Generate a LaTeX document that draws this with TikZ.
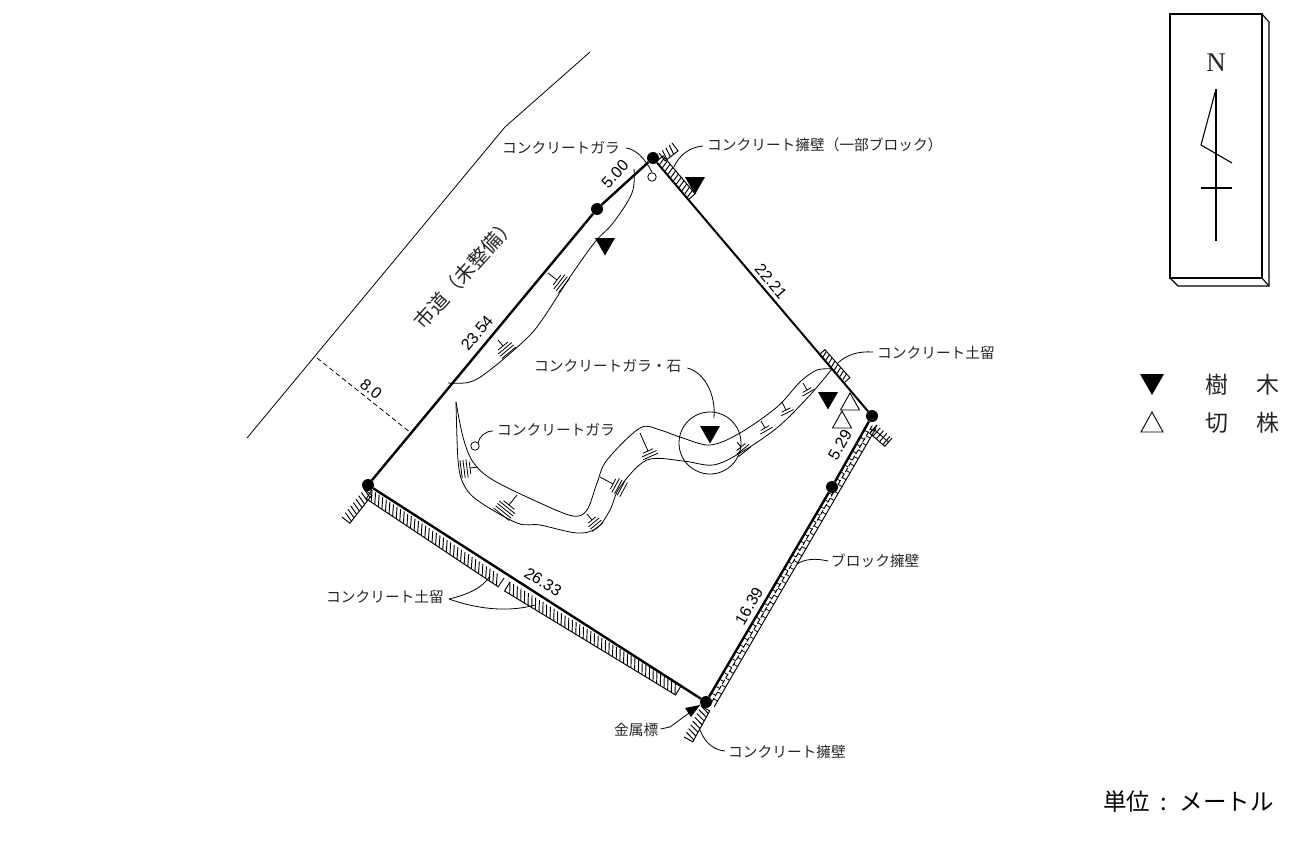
\documentclass[tikz,border=0pt]{standalone}
\usepackage{fontspec}
\setmainfont{Liberation Serif}
\newfontfamily\jp{Noto Sans CJK JP}
\newfontfamily\num{Liberation Sans}
\newcommand\hstrip[7]{% x1 y1 x2 y2 w spacing skew
  \pgfmathsetmacro\hsL{veclen(#3-#1,#4-#2)}
  \pgfmathsetmacro\hsux{(#3-#1)/\hsL}
  \pgfmathsetmacro\hsuy{(#4-#2)/\hsL}
  \pgfmathsetmacro\hsnx{-\hsuy*(#5)}
  \pgfmathsetmacro\hsny{\hsux*(#5)}
  \draw[hatch line] (#1,#2) -- (#1+\hsnx,#2+\hsny) -- (#3+\hsnx,#4+\hsny) -- (#3,#4);
  \pgfmathtruncatemacro\hsN{\hsL/(#6)}
  \foreach \k in {0,...,\hsN}{
    \pgfmathsetmacro\hss{\k*(#6)}
    \pgfmathsetmacro\hso{\hss+(#7)}
    \pgfmathtruncatemacro\hsok{(\hso>=0 && \hso<=\hsL) ? 1 : 0}
    \ifnum\hsok=1
      \draw[hatch line] (#1+\hss*\hsux,#2+\hss*\hsuy) -- (#1+\hso*\hsux+\hsnx,#2+\hso*\hsuy+\hsny);
    \fi
  }
}
\newcommand\teemark[7]{% x1 y1 x2 y2 half n spacing
  \pgfmathsetmacro\tmL{veclen(#3-#1,#4-#2)}
  \pgfmathsetmacro\tmux{(#3-#1)/\tmL}
  \pgfmathsetmacro\tmuy{(#4-#2)/\tmL}
  \draw[thin line] (#1,#2) -- (#3,#4);
  \foreach \k in {1,...,#6}{
    \pgfmathsetmacro\tmd{(\k-1)*(#7)}
    \pgfmathsetmacro\tmh{(#5)*(\k==1 ? 0.7 : 1)}
    \draw[thin line] (#3+\tmd*\tmux-\tmh*\tmuy,#4+\tmd*\tmuy+\tmh*\tmux) -- (#3+\tmd*\tmux+\tmh*\tmuy,#4+\tmd*\tmuy-\tmh*\tmux);
  }
}
\newcommand\treemark[2]{\fill[black] (#1-10,#2) -- (#1+10,#2) -- (#1,#2+17.5) -- cycle;}
\newcommand\stumpmark[2]{\draw[stump] (#1,#2) -- (#1+9.5,#2+17) -- (#1-9.5,#2+17) -- cycle;}
\tikzset{
  thin line/.style={line width=0.8pt,black},
  hatch line/.style={line width=0.95pt,black},
  bound/.style={line width=2.4pt,black},
  dot/.style={circle,fill=black,minimum size=12pt,inner sep=0pt},
  lab/.style={font=\jp\fontsize{14.7}{15}\selectfont,inner sep=0pt,anchor=west,text=black!85},
  dim/.style={font=\num\fontsize{16}{17}\selectfont,inner sep=0pt,text=black},
  leader/.style={line width=0.8pt,black},
  smallc/.style={circle,draw=black,line width=0.8pt,minimum size=8.5pt,inner sep=0pt},
  stump/.style={line width=0.9pt,black},
  legendtxt/.style={font=\jp\fontsize{23}{24}\selectfont,inner sep=0pt,text=black!85},
  comp/.style={line width=1.1pt,black},
}
\begin{document}
\begin{tikzpicture}[x=1pt,y=-1pt]
\useasboundingbox (0,0) rectangle (1302,843);
% corner nodes
\node[dot] (P1) at (653,158) {};
\node[dot] (P2) at (597,209) {};
\node[dot] (P3) at (368,485) {};
\node[dot] (P4) at (706,702) {};
\node[dot] (P5) at (832,487) {};
\node[dot] (P6) at (872,416) {};
% road
\coordinate (R1) at (590,52);
\coordinate (R2) at (505,127);
\coordinate (R3) at (247,438);
\draw[thin line] (R1) -- (R2) -- (R3);
\coordinate (D1) at (317,358);
\coordinate (D2) at (411,433);
\draw[thin line,dash pattern=on 5pt off 3pt] (D1) -- (D2);
% boundary
\draw[bound] (P1) -- (P2);
\draw[bound] (P2) -- (P3);
\draw[bound] (P3) -- (P4);
\draw[bound] (P4) -- (P5);
\draw[bound] (P5) -- (P6);
\draw[line width=2pt] (P1) -- (P6);
% hatched strips
\hstrip{657}{161}{689}{199}{-8}{4.3}{-2}
\hstrip{659}{153}{672}{143}{10}{4.3}{-2}
\hstrip{820}{354}{845}{382}{-6.5}{4.3}{-2}
\hstrip{372}{490}{504}{578}{10.5}{4.3}{6}
\hstrip{510}{582}{681}{686}{10.5}{4.3}{6}
\hstrip{364}{489}{342}{517}{-10}{4.3}{3}
\hstrip{701}{706}{684}{737}{-10}{4.3}{3}
\hstrip{877}{425}{892}{438}{11}{4.3}{0}
\draw[thin line] (873.5,429) -- (888.5,442);
% block wall
\pgfmathsetmacro\bux{-0.502}\pgfmathsetmacro\buy{0.865}
\pgfmathsetmacro\bnx{0.865}\pgfmathsetmacro\bny{0.502}
\draw[hatch line] (868+9.5*\bnx,423+9.5*\bny) -- (706+9.5*\bnx,702+9.5*\bny);
\draw[hatch line,dash pattern=on 5pt off 2pt] (868+5*\bnx,423+5*\bny) -- (706+5*\bnx,702+5*\bny);
\foreach \k in {1,...,40}{
  \pgfmathsetmacro\bs{8*\k}
  \draw[thin line] (868+\bs*\bux+1*\bnx,423+\bs*\buy+1*\bny) -- (868+\bs*\bux+5*\bnx,423+\bs*\buy+5*\bny);
  \draw[thin line] (868+\bs*\bux-4*\bux+5*\bnx,423+\bs*\buy-4*\buy+5*\bny) -- (868+\bs*\bux-4*\bux+9.5*\bnx,423+\bs*\buy-4*\buy+9.5*\bny);
}
% slope lines
\draw[thin line] plot[smooth,tension=0.6] coordinates {(634,169) (632,193) (613,223) (595,242) (570,277) (542,320) (525,340) (490,370) (470,382) (448,383)};
\draw[thin line] plot[smooth,tension=0.55] coordinates {(456,402) (463,437) (473,462) (493,480) (540,503) (573,516) (587,510) (597,483) (607,460) (640,428) (660,430) (680,437) (710,445) (740,433) (777,407) (800,382) (817,370) (832,369)};
\draw[thin line] plot[smooth,tension=0.55] coordinates {(456,402) (458,460) (463,483) (477,500) (517,523) (540,525) (577,533) (597,528) (610,510) (620,487) (647,460) (683,461) (713,465) (740,453) (778,427) (810,395) (832,369)};
% slope marks
\teemark{548}{273}{557}{280}{9}{4}{3}
\teemark{498}{340}{503}{346}{9}{4}{3}
\teemark{478}{467}{470}{468}{9}{4}{3}
\teemark{517}{495}{509}{505}{10}{5}{3}
\teemark{587}{514}{592}{520}{7}{4}{3}
\teemark{600}{477}{613}{484}{8}{5}{3}
\teemark{640}{433}{648}{451}{8}{3}{3}
\teemark{737}{442}{741}{447}{8}{3}{3}
\teemark{761}{421}{765}{428}{7}{2}{3}
\teemark{782}{402}{786}{410}{7}{2}{3}
\teemark{803}{383}{807}{390}{7}{2}{3}
% big circle
\node[circle,draw=black,line width=0.8pt,minimum size=62pt,inner sep=0pt] (C) at (710,443) {};
% trees and stumps
\treemark{695}{177}
\treemark{605}{238}
\treemark{710}{426}
\treemark{828}{392}
\stumpmark{850}{393}
\stumpmark{842}{411}
% small circles
\node[smallc] (c1) at (652,177) {};
\node[smallc] (c2) at (475,446) {};
% labels
\node[lab] (L1) at (502,148) {コンクリートガラ};
\draw[leader] (L1.east)++(6,0) .. controls (635,149) and (645,158) .. (c1.north);
\node[lab] (L2) at (707,145) {コンクリート擁壁（一部ブロック）};
\coordinate (a2) at (674,167);
\draw[leader] (L2.west)++(-4,1) .. controls (690,147) and (679,155) .. (a2);
\node[lab] (L3) at (877,353) {コンクリート土留};
\coordinate (a3) at (838,363);
\draw[leader] (L3.west)++(-4,-1) .. controls (858,351) and (846,355) .. (a3);
\node[lab] (L4) at (534,366) {コンクリートガラ・石};
\coordinate (a4) at (714,418);
\draw[leader] (L4.east)++(6,2) .. controls (703,372) and (716,392) .. (a4);
\node[lab] (L5) at (497,430) {コンクリートガラ};
\draw[leader] (L5.west)++(-4,1) .. controls (485,431) and (479,437) .. (c2.north east);
\node[lab] (L6) at (831,561) {ブロック擁壁};
\coordinate (a6) at (797,564);
\draw[leader] (L6.west)++(-3,0) .. controls (815,558) and (805,559) .. (a6);
\node[lab] (L7) at (326,597) {コンクリート土留};
\coordinate (a7) at (490,576);
\coordinate (a8) at (535,605);
\draw[leader] (L7.east)++(5,2) .. controls (470,594) and (483,587) .. (a7);
\draw[leader] (L7.east)++(5,2) .. controls (480,610) and (510,612) .. (a8);
\node[lab] (L8) at (614,730) {金属標};
\coordinate (a9) at (670,727);
\coordinate (a10) at (700,705);
\draw[leader] (L8.east)++(2,-1) -- (a9);
\draw[leader] (a9) -- (a10);
\fill[black] (a10) -- (685,708) -- (691,717) -- cycle;
\node[lab] (L9) at (728,752) {コンクリート擁壁};
\coordinate (a11) at (700,730);
\draw[leader] (L9.west)++(-3,-1) .. controls (714,750) and (705,743) .. (a11);
\node[font=\jp\fontsize{20}{21}\selectfont,inner sep=0pt,rotate=48,text=black!85] (road) at (465,273) {市道（未整備）};
% dimensions
\node[dim,rotate=47] (d1) at (615,174) {5.00};
\node[dim,rotate=50] (d2) at (477,333) {23.54};
\node[dim,rotate=-50] (d3) at (771,281) {22.21};
\node[dim,rotate=60] (d4) at (840,445) {5.29};
\node[dim,rotate=60] (d5) at (749,606) {16.39};
\node[dim,rotate=-32] (d6) at (543,582) {26.33};
\node[dim,rotate=-39] (d7) at (371,389) {8.0};
% compass
\draw[comp] (1170,14) rectangle (1262,278);
\draw[comp] (1262,14) -- (1269,22) -- (1269,286) -- (1178,286) -- (1170,278);
\draw[comp] (1262,278) -- (1269,286);
\node[font=\fontsize{27}{28}\selectfont,inner sep=0pt,text=black!85] (N) at (1216,63) {N};
\draw[comp] (1216,89) -- (1216,241);
\draw[comp] (1216,89) -- (1201,145) -- (1232,163);
\draw[comp] (1201,188) -- (1232,188);
% legend
\fill[black] (1140,374) -- (1164,374) -- (1152,395) -- cycle;
\draw[stump] (1152,412) -- (1163,432) -- (1141,432) -- cycle;
\node[legendtxt] (t1) at (1217,385) {樹};
\node[legendtxt] (t2) at (1268,385) {木};
\node[legendtxt] (t3) at (1217,423) {切};
\node[legendtxt] (t4) at (1268,423) {株};
\node[font=\jp\fontsize{23.5}{24}\selectfont,inner sep=0pt,anchor=east,text=black] (unit) at (1274,802) {単位\hspace{10pt}:\hspace{13pt}メートル};
\end{tikzpicture}
\end{document}
